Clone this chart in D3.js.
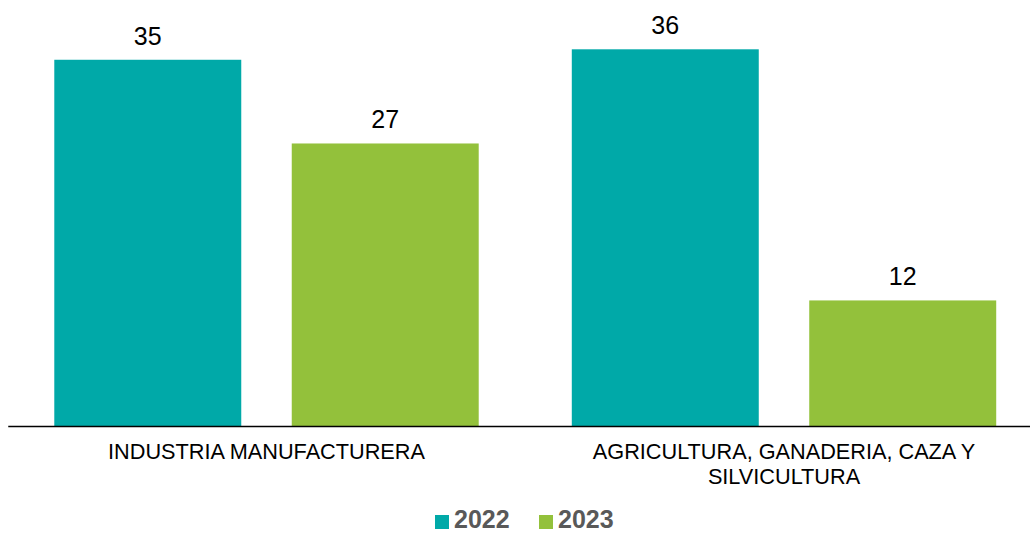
<!DOCTYPE html>
<html>
<head>
<meta charset="utf-8">
<script src="https://cdn.jsdelivr.net/npm/d3@7"></script>
<style>
  body { margin: 0; background: #fff; }
  svg { display: block; font-family: "Liberation Sans", Arial, sans-serif; }
</style>
</head>
<body>
<div id="chart"></div>
<script>
// chart data
const categories = ["INDUSTRIA MANUFACTURERA", "AGRICULTURA, GANADERIA, CAZA Y SILVICULTURA"];
const years = ["2022", "2023"];
const values2022 = [35, 36];
const values2023 = [27, 12];
const colors = ["#00A9A8", "#93C13B"];

const width = 1030, height = 533;
const margin = {top: 0, left: 7.75, baseline: 426};

const svg = d3.select("#chart").append("svg")
  .attr("width", width)
  .attr("height", height);

// rows built from the arrays
const rows = categories.map((c, i) => ({
  cat: c,
  vals: [
    {year: years[0], value: values2022[i]},
    {year: years[1], value: values2023[i]}
  ]
}));

// group scale runs a bit past the right edge, like the original
const x0 = d3.scaleBand()
  .domain(categories)
  .range([margin.left, margin.left + 1035])
  .padding(0);

const x1 = d3.scaleBand()
  .domain(years)
  .range([0, x0.bandwidth()])
  .paddingInner(0.2126)
  .paddingOuter(0.196);

const y = d3.scaleLinear()
  .domain([0, 36])
  .range([margin.baseline, 49.3]);

const color = d3.scaleOrdinal().domain(years).range(colors);

const groups = svg.selectAll("g.grp")
  .data(rows)
  .join("g")
  .attr("class", "grp")
  .attr("transform", d => `translate(${x0(d.cat)},0)`);

groups.selectAll("rect")
  .data(d => d.vals)
  .join("rect")
  .attr("x", d => x1(d.year))
  .attr("y", d => y(d.value))
  .attr("width", x1.bandwidth())
  .attr("height", d => y(0) - y(d.value))
  .attr("fill", d => color(d.year));

// value labels
groups.selectAll("text.lbl")
  .data(d => d.vals)
  .join("text")
  .attr("class", "lbl")
  .attr("x", d => x1(d.year) + x1.bandwidth() / 2)
  .attr("y", d => y(d.value) - 15)
  .attr("text-anchor", "middle")
  .style("font-size", "25px")
  .style("fill", "#000")
  .text(d => d.value);

// x axis (baseline + category labels)
const xAxis = d3.axisBottom(x0).tickSize(0).tickPadding(0);
const xAxisG = svg.append("g")
  .attr("transform", `translate(0,${margin.baseline})`)
  .call(xAxis);

xAxisG.select(".domain")
  .attr("stroke", "#000")
  .attr("stroke-width", 1.3);

xAxisG.selectAll(".tick text")
  .attr("y", 0)
  .attr("dy", 0)
  .style("font-size", "21.7px")
  .style("fill", "#000")
  .call(wrap, 430);

function wrap(text, w) {
  text.each(function() {
    const t = d3.select(this);
    const words = t.text().split(/\s+/);
    t.text(null);
    let line = [];
    let lineNo = 0;
    let tspan = t.append("tspan").attr("x", 0).attr("y", 33);
    words.forEach(word => {
      line.push(word);
      tspan.text(line.join(" "));
      if (tspan.node().getComputedTextLength() > w && line.length > 1) {
        line.pop();
        tspan.text(line.join(" "));
        line = [word];
        lineNo++;
        tspan = t.append("tspan").attr("x", 0).attr("y", 33 + lineNo * 25).text(word);
      }
    });
  });
}

// legend
const legendX = [435, 539];
const legend = svg.append("g");
years.forEach((yr, i) => {
  legend.append("rect")
    .attr("x", legendX[i])
    .attr("y", 515)
    .attr("width", 14)
    .attr("height", 14)
    .attr("fill", colors[i]);
  legend.append("text")
    .attr("x", legendX[i] + 19)
    .attr("y", 528)
    .style("font-size", "25px")
    .style("font-weight", "bold")
    .style("fill", "#595959")
    .text(yr);
});
</script>
</body>
</html>
